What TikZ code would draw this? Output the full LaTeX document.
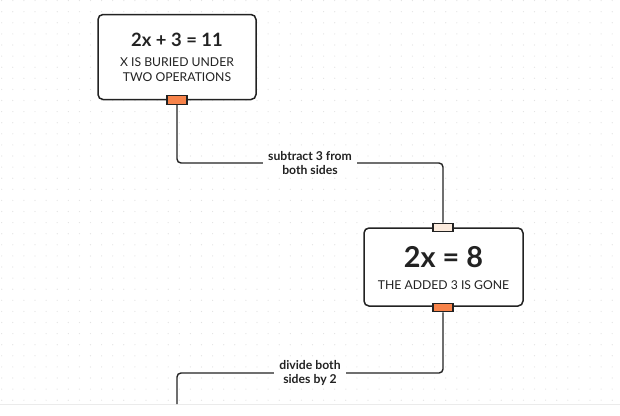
\documentclass[tikz,border=0pt]{standalone}
\usepackage{fontspec}
\setmainfont{Lato}
\definecolor{ink}{HTML}{222222}
\definecolor{portorange}{HTML}{F7834A}
\definecolor{portpeach}{HTML}{FCEBDD}
\definecolor{dotc}{HTML}{E2E2E2}
\begin{document}
\begin{tikzpicture}[x=1pt,y=-1pt,
  box/.style={draw=ink,line width=1.5pt,rounded corners=5pt,fill=white,inner sep=0pt},
  port/.style={draw=ink,line width=1.2pt,minimum width=20pt,minimum height=8.5pt,inner sep=0pt},
  conn/.style={draw=ink,line width=1.4pt,rounded corners=4pt},
  lbl/.style={fill=white,inner xsep=5pt,inner ysep=1pt,align=center,font=\fontsize{12.2}{14.5}\selectfont\bfseries,text=ink},
  ttl/.style={font=\fontsize{18.4}{20}\selectfont\bfseries,text=ink,inner sep=0pt},
  sub/.style={font=\fontsize{12.2}{15}\selectfont,text=ink,align=center,inner sep=0pt}]
\useasboundingbox (0,0) rectangle (620,415);
\fill[white] (0,0) rectangle (620,415);
% dot grid
\foreach \i in {0,...,55}{
  \foreach \j in {0,...,36}{
    \fill[dotc] (1.7+11.1*\i,0.6+11.1*\j) circle (0.6);
  }
}
\fill[white] (0,404) rectangle (620,415);
\draw[draw=black!8,line width=0.8pt] (0,404) -- (620,404);
% connector bends
\coordinate (m1) at (310,163);
\coordinate (m2) at (310,373);
\coordinate (endc) at (177,404);
% boxes
\node[box,minimum width=158pt,minimum height=85pt] (b1) at (177,57) {};
\node[ttl] (t1) at (177,40) {2x + 3 = 11};
\node[sub] (s1) at (177,70) {X IS BURIED UNDER\\TWO OPERATIONS};
\node[box,minimum width=159pt,minimum height=78pt] (b2) at (443.5,267) {};
\node[ttl,font=\fontsize{28.8}{30}\selectfont\bfseries] (t2) at (443.5,257) {2x = 8};
\node[sub] (s2) at (443.5,285) {THE ADDED 3 IS GONE};
% ports
\node[port,fill=portorange] (p1) at (177,100) {};
\node[port,fill=portpeach] (p2) at (443,227.5) {};
\node[port,fill=portorange] (p3) at (443,307.5) {};
\draw[conn] (p1.south) |- (m1) -| (p2.north);
\draw[conn] (p3.south) |- (m2) -| (endc);
\node[lbl] (l1) at (m1) {subtract 3 from\\both sides};
\node[lbl] (l2) at (m2) {divide both\\sides by 2};
\end{tikzpicture}
\end{document}
